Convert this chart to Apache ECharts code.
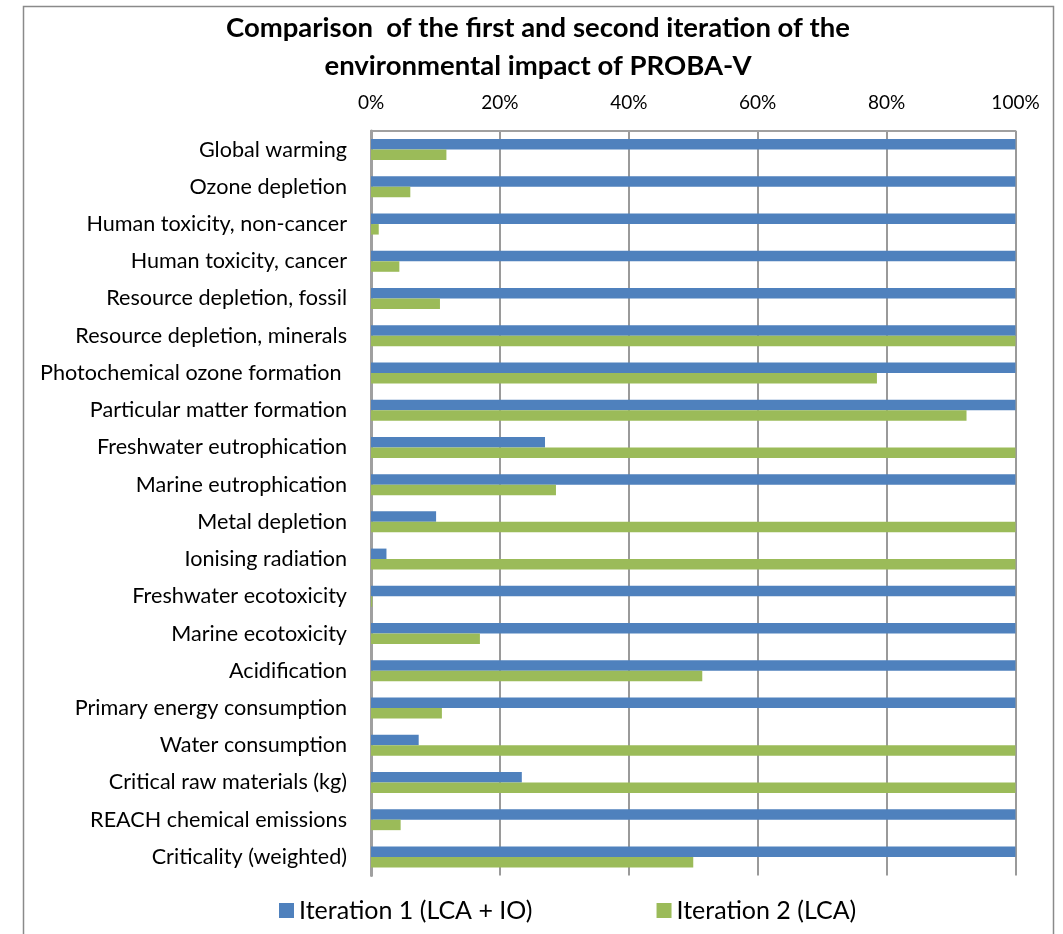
<!DOCTYPE html>
<html>
<head>
<meta charset="utf-8">
<script src="https://cdn.jsdelivr.net/npm/echarts@6/dist/echarts.min.js"></script>
<style>
  html, body { margin: 0; padding: 0; background: #fff; }
  #main { width: 1063px; height: 934px; }
</style>
</head>
<body>
<div id="main"></div>
<script>
// categories, top to bottom
var categories = [
    'Global warming',
    'Ozone depletion',
    'Human toxicity, non-cancer',
    'Human toxicity, cancer',
    'Resource depletion, fossil',
    'Resource depletion, minerals',
    'Photochemical ozone formation ',
    'Particular matter formation',
    'Freshwater eutrophication',
    'Marine eutrophication',
    'Metal depletion',
    'Ionising radiation',
    'Freshwater ecotoxicity',
    'Marine ecotoxicity',
    'Acidification',
    'Primary energy consumption',
    'Water consumption',
    'Critical raw materials (kg)',
    'REACH chemical emissions',
    'Criticality (weighted)'
];
// share in %
var iteration1 = [100, 100, 100, 100, 100, 100, 100, 100, 27.0, 100, 10.1, 2.4, 100, 100, 100, 100, 7.4, 23.4, 100, 100];
var iteration2 = [11.7, 6.1, 1.2, 4.4, 10.7, 100, 78.5, 92.4, 100, 28.7, 100, 100, 0.2, 16.9, 51.4, 11.0, 100, 100, 4.6, 50.0];
var xTicks = [0, 20, 40, 60, 80, 100];

var font = 'Lato';
var myChart = echarts.init(document.getElementById('main'));
var option = {
    animation: false,
    title: {
        text: 'Comparison  of the first and second iteration of the\nenvironmental impact of PROBA-V',
        left: 533,
        textAlign: 'center',
        top: 4,
        textStyle: {
            fontFamily: font,
            fontWeight: 'bold',
            fontSize: 27.5,
            lineHeight: 38,
            color: '#000'
        }
    },
    graphic: [{
        type: 'rect',
        shape: { x: 23.5, y: 6.5, width: 1030, height: 940 },
        style: { fill: null, stroke: '#8a8a8a', lineWidth: 1.5 },
        silent: true
    }],
    legend: {
        data: ['Iteration 1 (LCA + IO)', 'Iteration 2 (LCA)'],
        top: 893,
        left: 274,
        itemGap: 124,
        itemWidth: 15,
        itemHeight: 15,
        icon: 'rect',
        textStyle: { fontFamily: font, fontSize: 25, color: '#000' }
    },
    grid: {
        left: 371,
        right: 1063 - 1015.5,
        top: 131,
        bottom: 934 - 875.5,
        containLabel: false
    },
    xAxis: {
        type: 'value',
        position: 'top',
        min: 0,
        max: 100,
        interval: 20,
        axisLine: { show: true, lineStyle: { color: '#a0a0a0', width: 2 } },
        axisTick: { show: false },
        splitLine: { show: true, lineStyle: { color: '#9a9a9a', width: 2 } },
        axisLabel: {
            margin: 19,
            fontFamily: font,
            fontSize: 19,
            color: '#000',
            formatter: function (v) { return xTicks.indexOf(v) >= 0 ? v + '%' : ''; }
        }
    },
    yAxis: {
        type: 'category',
        data: categories,
        inverse: true,
        axisLine: { show: true, lineStyle: { color: '#a0a0a0', width: 3 } },
        axisTick: { show: false },
        axisLabel: {
            margin: 24,
            fontFamily: font,
            fontSize: 21.6,
            color: '#000'
        }
    },
    series: [
        {
            name: 'Iteration 1 (LCA + IO)',
            type: 'bar',
            data: iteration1,
            barWidth: 10.5,
            barGap: '0%',
            itemStyle: { color: '#4f81bd' }
        },
        {
            name: 'Iteration 2 (LCA)',
            type: 'bar',
            data: iteration2,
            barWidth: 10.5,
            barGap: '0%',
            itemStyle: { color: '#9bbb59' }
        }
    ]
};
myChart.setOption(option);
</script>
</body>
</html>
